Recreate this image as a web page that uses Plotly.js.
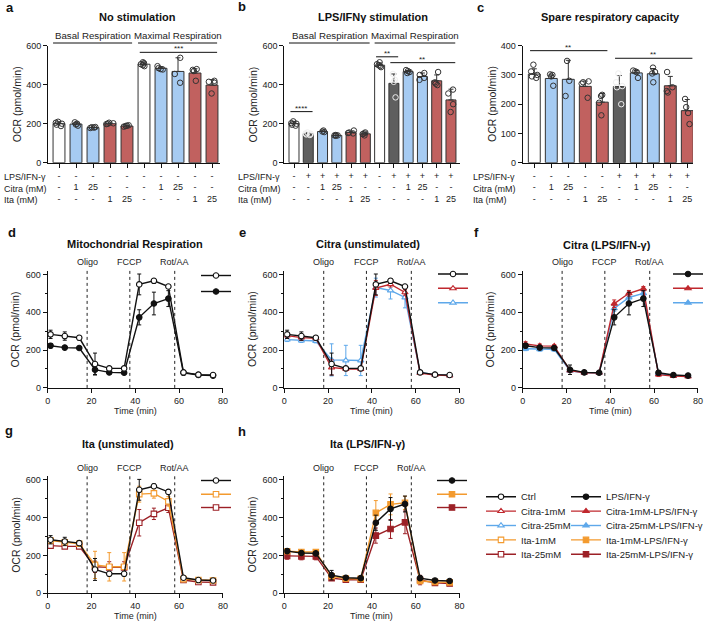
<!DOCTYPE html>
<html>
<head>
<meta charset="utf-8">
<script src="https://cdn.plot.ly/plotly-3.0.1.min.js"></script>
<style>html,body{margin:0;padding:0;background:#fff}#chart{width:704px;height:622px}</style>
</head>
<body>
<div id="chart"></div>
<script>
// ---- bar panels: a (no stimulation), b (LPS/IFNy), c (spare capacity) ----
var aKinds = ['ctrl', 'citra', 'citra', 'ita', 'ita', 'ctrl', 'citra', 'citra', 'ita', 'ita']
var aMeans = [200, 198, 180, 200, 188, 505, 484, 468, 460, 398]
var aSD = [10, 9, 3, 4, 4, 12, 8, 70, 22, 28]
var aPoints = [[210, 200, 195, 188, 205], [207, 200, 190, 196], [180, 182, 178, 183], [200, 205, 198, 202], [188, 185, 190, 192],
    [515, 500, 505, 495, 510], [495, 480, 485, 478], [538, 455, 410], [480, 476, 470, 420], [420, 415, 410, 355]]
var aLps = ['-', '-', '-', '-', '-', '-', '-', '-', '-', '-']
var aCitra = ['-', '1', '25', '-', '-', '-', '1', '25', '-', '-']
var aIta = ['-', '-', '-', '1', '25', '-', '-', '-', '1', '25']

var bKinds = ['ctrl', 'lps', 'citra', 'citra', 'ita', 'ita', 'ctrl', 'lps', 'citra', 'citra', 'ita', 'ita']
var bMeans = [200, 148, 160, 140, 155, 148, 500, 407, 467, 442, 420, 322]
var bSD = [12, 6, 4, 2, 6, 8, 12, 48, 6, 18, 30, 55]
var bPoints = [[212, 200, 195, 190, 203], [155, 150, 145, 142, 148], [165, 160, 157], [140, 138, 142, 140], [165, 150, 155, 152], [155, 150, 140, 147],
    [515, 495, 490, 500, 505], [455, 425, 415, 335], [475, 470, 465, 460], [460, 450, 435, 425], [465, 412, 405, 398], [375, 355, 300, 260]]
var bLps = ['-', '+', '+', '+', '+', '+', '-', '+', '+', '+', '+', '+']
var bCitra = ['-', '-', '1', '25', '-', '-', '-', '-', '1', '25', '-', '-']
var bIta = ['-', '-', '-', '-', '1', '25', '-', '-', '-', '-', '1', '25']

var cKinds = ['ctrl', 'citra', 'citra', 'ita', 'ita', 'lps', 'citra', 'citra', 'ita', 'ita']
var cMeans = [303, 288, 285, 261, 207, 260, 307, 304, 263, 178]
var cSD = [18, 12, 65, 18, 30, 38, 8, 18, 32, 38]
var cPoints = [[335, 312, 300, 295, 290], [302, 300, 295, 263], [348, 280, 228], [278, 275, 270, 222], [232, 228, 205, 162],
    [305, 275, 262, 258, 200], [315, 312, 310, 290], [325, 310, 305, 275], [310, 258, 245, 240], [218, 190, 170, 132]]
var cLps = ['-', '-', '-', '-', '-', '+', '+', '+', '+', '+']
var cCitra = ['-', '1', '25', '-', '-', '-', '1', '25', '-', '-']
var cIta = ['-', '-', '-', '1', '25', '-', '-', '-', '1', '25']

var rowNames = ['LPS/IFN-γ', 'Citra (mM)', 'Ita (mM)']
var aHeaders = [{ text: 'Basal Respiration', from: 0, to: 4 }, { text: 'Maximal Respiration', from: 5, to: 9 }]
var bHeaders = [{ text: 'Basal Respiration', from: 0, to: 5 }, { text: 'Maximal Respiration', from: 6, to: 11 }]
var aSig = [{ from: 5, to: 9, y: 566, label: '***' }]
var bSig = [{ from: 0, to: 1, y: 262, label: '****' }, { from: 6, to: 7, y: 543, label: '**' }, { from: 7, to: 11, y: 513, label: '**' }]
var cSig = [{ from: 0, to: 4, y: 383, label: '**' }, { from: 5, to: 9, y: 357, label: '**' }]

// ---- seahorse time courses (d - h) ----
var times = [1.3, 7.8, 14.4, 21.6, 28.1, 34.9, 41.8, 48.5, 55.1, 62, 68.8, 75.5]
var drugNames = ['Oligo', 'FCCP', 'Rot/AA']
var drugTimes = [18, 37.5, 58]

var ctrl = [283, 274, 265, 126, 103, 103, 547, 566, 536, 82, 70, 68]
var ctrlSD = [22, 22, 12, 58, 8, 8, 55, 12, 10, 10, 6, 5]
var lps = [223, 213, 211, 96, 82, 80, 373, 446, 472, 80, 68, 65]
var lpsSD = [12, 6, 5, 25, 8, 6, 40, 60, 42, 12, 6, 5]
var citra1 = [276, 266, 262, 108, 100, 100, 528, 548, 505, 78, 68, 65]
var citra1SD = [15, 15, 10, 40, 10, 10, 40, 15, 15, 8, 5, 5]
var citra25 = [255, 250, 248, 148, 145, 145, 530, 515, 478, 82, 70, 66]
var citra25SD = [10, 10, 10, 85, 80, 80, 50, 45, 55, 8, 5, 5]
var citra1Lps = [232, 222, 221, 92, 80, 80, 445, 500, 524, 70, 62, 60]
var citra1LpsSD = [12, 10, 8, 8, 5, 5, 20, 15, 12, 10, 5, 5]
var citra25Lps = [207, 204, 204, 90, 80, 80, 420, 478, 500, 76, 65, 62]
var citra25LpsSD = [10, 10, 10, 8, 5, 5, 15, 15, 12, 8, 5, 5]
var ita1 = [279, 270, 262, 150, 140, 140, 524, 528, 486, 75, 70, 68]
var ita1SD = [15, 15, 10, 72, 75, 75, 42, 25, 25, 10, 8, 8]
var ita25 = [252, 248, 248, 140, 137, 137, 373, 420, 452, 70, 60, 58]
var ita25SD = [10, 10, 10, 30, 30, 30, 70, 30, 25, 10, 5, 5]
var ita1Lps = [222, 218, 218, 90, 78, 76, 425, 470, 478, 65, 60, 58]
var ita1LpsSD = [12, 12, 12, 8, 5, 5, 65, 55, 35, 10, 5, 5]
var ita25Lps = [198, 195, 195, 80, 72, 72, 305, 340, 375, 70, 55, 52]
var ita25LpsSD = [18, 18, 18, 8, 5, 5, 40, 50, 60, 25, 8, 6]

var legendLeft = ['Ctrl', 'Citra-1mM', 'Citra-25mM', 'Ita-1mM', 'Ita-25mM']
var legendRight = ['LPS/IFN-γ', 'Citra-1mM-LPS/IFN-γ', 'Citra-25mM-LPS/IFN-γ', 'Ita-1mM-LPS/IFN-γ', 'Ita-25mM-LPS/IFN-γ']

var series = {
    'Ctrl': [ctrl, ctrlSD], 'LPS/IFN-γ': [lps, lpsSD],
    'Citra-1mM': [citra1, citra1SD], 'Citra-25mM': [citra25, citra25SD],
    'Citra-1mM-LPS/IFN-γ': [citra1Lps, citra1LpsSD], 'Citra-25mM-LPS/IFN-γ': [citra25Lps, citra25LpsSD],
    'Ita-1mM': [ita1, ita1SD], 'Ita-25mM': [ita25, ita25SD],
    'Ita-1mM-LPS/IFN-γ': [ita1Lps, ita1LpsSD], 'Ita-25mM-LPS/IFN-γ': [ita25Lps, ita25LpsSD]
}

// styles
var FONT = 'Liberation Sans, Arial, Helvetica, sans-serif'
var W = 704, H = 622
function px(v) { return v / W }
function py(v) { return 1 - v / H }

var barColor = { ctrl: '#ffffff', lps: '#5f5f5f', citra: '#a6cbf2', ita: '#c1615f' }
var dotColor = { ctrl: '#333333', lps: '#eeeeee', citra: '#333333', ita: '#333333' }
var lineStyle = {
    'Ctrl': ['#111111', 'circle', true], 'LPS/IFN-γ': ['#111111', 'circle', false],
    'Citra-1mM': ['#c0282e', 'triangle-up', true], 'Citra-1mM-LPS/IFN-γ': ['#c0282e', 'triangle-up', false],
    'Citra-25mM': ['#5ea8ea', 'triangle-up', true], 'Citra-25mM-LPS/IFN-γ': ['#5ea8ea', 'triangle-up', false],
    'Ita-1mM': ['#f39a2e', 'square', true], 'Ita-1mM-LPS/IFN-γ': ['#f39a2e', 'square', false],
    'Ita-25mM': ['#9c2026', 'square', true], 'Ita-25mM-LPS/IFN-γ': ['#9c2026', 'square', false]
}

var data = []
var layout = {
    width: W, height: H,
    margin: { l: 0, r: 0, t: 0, b: 0, autoexpand: false },
    paper_bgcolor: '#ffffff', plot_bgcolor: 'rgba(0,0,0,0)',
    font: { family: FONT, size: 9, color: '#222222' },
    showlegend: true, hovermode: false,
    annotations: [], shapes: []
}

function axisStyle(extra) {
    return Object.assign({
        showline: true, linecolor: '#111111', linewidth: 1,
        ticks: 'outside', ticklen: 4, tickwidth: 1, tickcolor: '#111111',
        showgrid: false, zeroline: false, fixedrange: true,
        tickfont: { family: FONT, size: 9, color: '#222222' }
    }, extra)
}

function ann(text, x, y, opt) {
    layout.annotations.push(Object.assign({
        text: text, x: px(x), y: py(y), xref: 'paper', yref: 'paper', showarrow: false,
        xanchor: 'center', yanchor: 'middle',
        font: { family: FONT, size: 9, color: '#222222' }
    }, opt || {}))
}

function ids(n) {
    var s = n === 1 ? '' : String(n)
    return { xa: 'x' + s, ya: 'y' + s, xk: 'xaxis' + s, yk: 'yaxis' + s }
}

var yTitleFont = { family: FONT, size: 10.5, color: '#222222' }

function barPanel(n, box, kinds, means, sd, points, rows, headers, sigs) {
    var id = ids(n)
    var idx = kinds.map(function (k, i) { return i })
    var ticktext = idx.map(function (i) { return rows.map(function (r) { return r[i] }).join('<br>') })
    layout[id.xk] = axisStyle({
        domain: [px(box.left), px(box.right)], anchor: id.ya,
        range: [(box.left - box.first) / box.step, (box.right - box.first) / box.step],
        tickvals: idx, ticktext: ticktext
    })
    layout[id.yk] = axisStyle({
        domain: [py(162.7), py(45.7)], anchor: id.xa,
        range: [0, box.yMax], dtick: box.yStep
    })
    data.push({
        type: 'bar', x: idx, y: means, xaxis: id.xa, yaxis: id.ya, width: 0.7, showlegend: false,
        marker: { color: kinds.map(function (k) { return barColor[k] }), line: { color: '#333333', width: 1 } },
        error_y: { type: 'data', symmetric: false, array: sd, arrayminus: sd.map(function () { return 0 }), color: '#333333', thickness: 1, width: 2.5 }
    })
    // individual replicates, jittered by the box trace
    var groups = {}
    points.forEach(function (pts, i) {
        var c = dotColor[kinds[i]]
        if (!groups[c]) groups[c] = { x: [], y: [] }
        pts.forEach(function (v) { groups[c].x.push(i); groups[c].y.push(v) })
    })
    Object.keys(groups).forEach(function (c) {
        data.push({
            type: 'box', x: groups[c].x, y: groups[c].y, xaxis: id.xa, yaxis: id.ya, showlegend: false,
            boxpoints: 'all', jitter: 0.8, pointpos: 0, width: 0.55, whiskerwidth: 0,
            fillcolor: 'rgba(0,0,0,0)', line: { width: 0, color: 'rgba(0,0,0,0)' },
            marker: { symbol: 'circle-open', size: 5.5, color: c, line: { width: 1, color: c } }
        })
    })
    rowNames.forEach(function (r, k) {
        ann(r, box.labelX, box.rowY[k], { xanchor: 'left' })
    })
    ann('OCR (pmol/min)', box.left - 31, 104.2, { textangle: -90, font: yTitleFont })
    ;(headers || []).forEach(function (h) {
        layout.shapes.push({ type: 'line', xref: id.xa, yref: id.ya + ' domain', x0: h.from - 0.35, x1: h.to + 0.3, y0: 1.023, y1: 1.023, line: { color: '#111111', width: 1 } })
        layout.annotations.push({
            text: h.text, xref: id.xa, yref: id.ya + ' domain', x: (h.from + h.to) / 2, y: 1.023, xanchor: 'center', yanchor: 'bottom',
            showarrow: false, font: { family: FONT, size: 9.7, color: '#222222' }
        })
    })
    sigs.forEach(function (s) {
        layout.shapes.push({ type: 'line', xref: id.xa, yref: id.ya, x0: s.from - 0.25, x1: s.to + 0.3, y0: s.y, y1: s.y, line: { color: '#111111', width: 1 } })
        layout.annotations.push({
            text: s.label, xref: id.xa, yref: id.ya, x: (s.from + s.to) / 2, y: s.y, xanchor: 'center', yanchor: 'bottom', yshift: -3,
            showarrow: false, font: { family: FONT, size: 8, color: '#222222' }
        })
    })
}

var legendCount = 0
function addLegend(xc, yc) {
    legendCount++
    var key = legendCount === 1 ? 'legend' : 'legend' + legendCount
    layout[key] = {
        x: px(xc - 20), y: py(yc), xanchor: 'left', yanchor: 'middle',
        bgcolor: 'rgba(0,0,0,0)', borderwidth: 0, itemclick: false, itemdoubleclick: false,
        font: { family: FONT, size: 9.5, color: '#222222' }
    }
    return key
}

function lineTrace(name, id, legendKey, label, empty) {
    var st = lineStyle[name]
    var t = {
        type: 'scatter', mode: 'lines+markers', name: label,
        x: empty ? [null] : times, y: empty ? [null] : series[name][0],
        xaxis: id.xa, yaxis: id.ya, legend: legendKey, showlegend: true,
        line: { color: st[0], width: 1.4 },
        marker: { symbol: st[1], size: 5.5, color: st[2] ? '#ffffff' : st[0], line: { color: st[0], width: 1.1 } }
    }
    if (!empty) t.error_y = { type: 'data', array: series[name][1], color: st[0], thickness: 1, width: 2 }
    return t
}

function linePanel(n, box, names) {
    var id = ids(n)
    var pxPerMin = 2.19, pxPerUnit = 0.1892
    layout[id.xk] = axisStyle({
        domain: [px(box.left), px(box.left + 80 * pxPerMin)], anchor: id.ya,
        range: [0, 80], dtick: 20
    })
    layout[id.yk] = axisStyle({
        domain: [py(box.zero), py(box.zero - 620 * pxPerUnit)], anchor: id.xa,
        range: [0, 620], dtick: 200,
        minor: { dtick: 100, ticks: 'outside', ticklen: 2, tickcolor: '#111111' }
    })
    drugTimes.forEach(function (t, k) {
        layout.shapes.push({ type: 'line', xref: id.xa, yref: id.ya + ' domain', x0: t, x1: t, y0: 0, y1: 1.01, line: { color: '#222222', width: 1, dash: 'dot' } })
        layout.annotations.push({
            text: drugNames[k], xref: id.xa, yref: id.ya + ' domain', x: t, y: 1.01, xanchor: 'center', yanchor: 'bottom',
            showarrow: false, font: { family: FONT, size: 9, color: '#222222' }
        })
    })
    ann('OCR (pmol/min)', box.left - 32.5, box.zero - 310 * pxPerUnit, { textangle: -90, font: yTitleFont })
    ann('Time (min)', box.left + 40 * pxPerMin, box.zero + 23, {})
    // control series drawn last so it sits on top
    names.slice().reverse().forEach(function (name) {
        var k = names.indexOf(name)
        var key = addLegend(box.legX, box.legY[k])
        data.push(lineTrace(name, id, key, '', false))
    })
}

barPanel(1, { left: 48, right: 220, first: 59, step: 17, yMax: 600, yStep: 200, labelX: 2, rowY: [177, 188.7, 200.4] },
    aKinds, aMeans, aSD, aPoints, [aLps, aCitra, aIta], aHeaders, aSig)
barPanel(2, { left: 284.3, right: 460, first: 294, step: 14.27, yMax: 600, yStep: 200, labelX: 236, rowY: [177, 188.7, 200.4] },
    bKinds, bMeans, bSD, bPoints, [bLps, bCitra, bIta], bHeaders, bSig)
barPanel(3, { left: 522.7, right: 693, first: 534.3, step: 17, yMax: 400, yStep: 100, labelX: 471, rowY: [177, 188.7, 200.4] },
    cKinds, cMeans, cSD, cPoints, [cLps, cCitra, cIta], null, cSig)

linePanel(4, { left: 47.7, zero: 387.9, legX: 216, legY: [275.5, 291.5] }, ['Ctrl', 'LPS/IFN-γ'])
linePanel(5, { left: 284.3, zero: 387.9, legX: 453, legY: [274, 288.3, 302.7] }, ['Ctrl', 'Citra-1mM', 'Citra-25mM'])
linePanel(6, { left: 522.7, zero: 387.9, legX: 688, legY: [274, 288.3, 302.7] }, ['LPS/IFN-γ', 'Citra-1mM-LPS/IFN-γ', 'Citra-25mM-LPS/IFN-γ'])
linePanel(7, { left: 47.7, zero: 593.3, legX: 216, legY: [480.5, 494.3, 507.5] }, ['Ctrl', 'Ita-1mM', 'Ita-25mM'])
linePanel(8, { left: 284.3, zero: 593.3, legX: 452, legY: [480.5, 494.3, 507.5] }, ['LPS/IFN-γ', 'Ita-1mM-LPS/IFN-γ', 'Ita-25mM-LPS/IFN-γ'])

// shared legend at bottom right
legendLeft.forEach(function (name, i) {
    var key = addLegend(501, 496.7 + i * 14.4)
    data.push(lineTrace(name, ids(8), key, name, true))
})
legendRight.forEach(function (name, i) {
    var key = addLegend(586, 496.7 + i * 14.4)
    data.push(lineTrace(name, ids(8), key, name, true))
})

// panel titles and letters
var bold = function (size) { return { family: FONT, size: size, color: '#111111', weight: 'bold' } }
ann('No stimulation', 137, 17, { font: bold(11) })
ann('LPS/IFNγ stimulation', 372.5, 17, { font: bold(11) })
ann('Spare respiratory capacity', 610.5, 17, { font: bold(11) })
ann('Mitochondrial Respiration', 135, 244, { font: bold(11) })
ann('Citra (unstimulated)', 368, 244, { font: bold(11) })
ann('Citra (LPS/IFN-γ)', 606.5, 245, { font: bold(11) })
ann('Ita (unstimulated)', 128, 443.7, { font: bold(11) })
ann('Ita (LPS/IFN-γ)', 368, 443.7, { font: bold(11) })
var letters = [['a', 10, 7.5], ['b', 242, 7], ['c', 480.5, 7.5], ['d', 11.5, 233], ['e', 242, 233], ['f', 476.5, 233], ['g', 9, 430], ['h', 241.5, 431]]
letters.forEach(function (l) { ann(l[0], l[1], l[2], { font: bold(13) }) })

Plotly.newPlot('chart', data, layout, { staticPlot: true, displayModeBar: false })
</script>
</body>
</html>
